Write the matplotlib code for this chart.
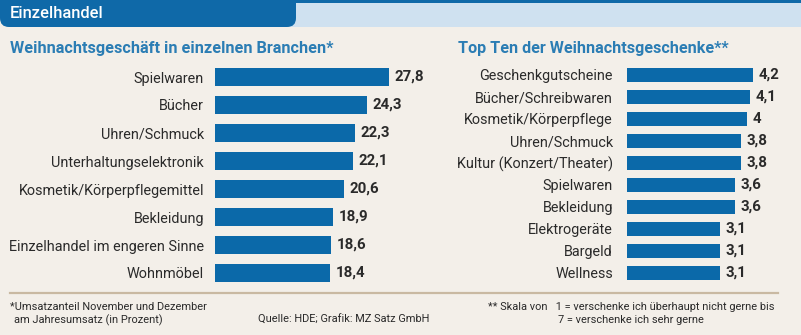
import matplotlib
matplotlib.use("Agg")
import matplotlib.pyplot as plt
from matplotlib.patches import FancyBboxPatch, Rectangle

plt.rcParams['font.family'] = ['Roboto', 'DejaVu Sans']

branchen = ["Spielwaren", "Bücher", "Uhren/Schmuck", "Unterhaltungselektronik",
            "Kosmetik/Körperpflegemittel", "Bekleidung",
            "Einzelhandel im engeren Sinne", "Wohnmöbel"]
anteil = [27.8, 24.3, 22.3, 22.1, 20.6, 18.9, 18.6, 18.4]

geschenke = ["Geschenkgutscheine", "Bücher/Schreibwaren", "Kosmetik/Körperpflege",
             "Uhren/Schmuck", "Kultur (Konzert/Theater)", "Spielwaren",
             "Bekleidung", "Elektrogeräte", "Bargeld", "Wellness"]
skala = [4.2, 4.1, 4.0, 3.8, 3.8, 3.6, 3.6, 3.1, 3.1, 3.1]

BG = "#f3efe9"
BAR = "#0b69a9"
DARK = "#0f69a8"
LIGHT = "#cfe1f0"
TITLE = "#2b7db4"
TXT = "#2a2a2a"
W, H = 801, 335

fig = plt.figure(figsize=(W / 100, H / 100), dpi=100, facecolor=BG)

# background axes in pixel coordinates
bg = fig.add_axes([0, 0, 1, 1])
bg.set_xlim(0, W)
bg.set_ylim(H, 0)
bg.axis("off")
bg.add_patch(Rectangle((0, 0), W, 3, color=DARK, lw=0))
bg.add_patch(Rectangle((290, 3), W - 290, 24, color=LIGHT, lw=0))
bg.add_patch(FancyBboxPatch((0, -20), 296, 47, boxstyle="round,pad=0,rounding_size=9",
                            color=DARK, lw=0))
bg.text(10, 14, "Einzelhandel", color="white", fontsize=11.9, fontweight="medium",
        va="center", ha="left")
bg.text(10, 48, "Weihnachtsgeschäft in einzelnen Branchen*", color=TITLE,
        fontsize=11.7, fontweight="semibold", va="center", ha="left")
bg.text(458, 48, "Top Ten der Weihnachtsgeschenke**", color=TITLE,
        fontsize=11.6, fontweight="semibold", va="center", ha="left")
bg.plot([10, 778], [293, 293], color="#c9b9a2", lw=1.6)

fs = 7.9
bg.text(10, 307, "*Umsatzanteil November und Dezember", fontsize=fs, color=TXT, va="center")
bg.text(14, 320, "am Jahresumsatz (in Prozent)", fontsize=fs, color=TXT, va="center")
bg.text(258, 320, "Quelle: HDE; Grafik: MZ Satz GmbH", fontsize=fs, color=TXT, va="center")
bg.text(488, 307, "** Skala von   1 = verschenke ich überhaupt nicht gerne bis",
        fontsize=fs, color=TXT, va="center")
bg.text(558, 320, "7 = verschenke ich sehr gerne", fontsize=fs, color=TXT, va="center")


def panel(x0, x1, y0, y1, labels, values, ppu, bh, pad):
    ax = fig.add_axes([x0 / W, 1 - y1 / H, (x1 - x0) / W, (y1 - y0) / H])
    ax.set_facecolor("none")
    n = len(labels)
    ax.barh(range(n), values, height=bh, color=BAR, lw=0)
    ax.set_xlim(0, (x1 - x0) / ppu)
    ax.set_ylim(n - 0.5, -0.5)
    ax.set_yticks(range(n))
    ax.set_yticklabels(labels, fontsize=10.4, color=TXT)
    ax.tick_params(axis="y", length=0, pad=pad)
    ax.set_xticks([])
    for s in ax.spines.values():
        s.set_visible(False)
    for i, v in enumerate(values):
        txt = f"{v:g}".replace(".", ",")
        ax.annotate(txt, (v, i), xytext=(4, 0), textcoords="offset points",
                    va="center", ha="left", fontsize=10.8, fontweight="bold", color=TXT)
    return ax


panel(215, 420, 63, 287, branchen, anteil, 6.26, 0.64, 8)
panel(627, 790, 64, 284, geschenke, skala, 30.0, 0.68, 10)

fig.savefig("out.png", dpi=100, facecolor=BG)
